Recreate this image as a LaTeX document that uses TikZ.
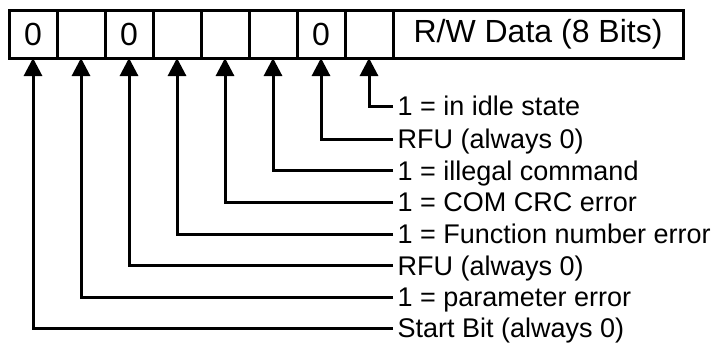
\documentclass[tikz,border=0pt]{standalone}
\usepackage{fontspec}
\setmainfont{Liberation Sans}
\usetikzlibrary{arrows.meta}
\begin{document}
\begin{tikzpicture}[x=1pt,y=-1pt,
  cell/.style={draw, line width=3pt, minimum width=48pt, minimum height=48pt, inner sep=0pt, outer sep=0pt,
    font=\fontsize{32}{36}\selectfont},
  databox/.style={draw, line width=3pt, minimum width=290pt, minimum height=48pt, inner sep=0pt, outer sep=0pt,
    font=\fontsize{32}{36}\selectfont},
  lbl/.style={anchor=west, inner xsep=4.5pt, inner ysep=0pt, text height=19.4pt, text depth=0pt,
    font=\fontsize{27}{31}\selectfont},
  conn/.style={line width=3pt, -{Triangle[length=18pt,width=18pt]}}]
\useasboundingbox (0,0) rectangle (712,343);
% register cells (bit 7 .. bit 0)
\node[cell] (c0) at (33,34) {0};
\node[cell] (c1) at (81,34) {};
\node[cell] (c2) at (129,34) {0};
\node[cell] (c3) at (177,34) {};
\node[cell] (c4) at (225,34) {};
\node[cell] (c5) at (273,34) {};
\node[cell] (c6) at (321,34) {0};
\node[cell] (c7) at (369,34) {};
\node[databox] (data) at (538,34) {R/W Data (8 Bits)};
% labels
\node[lbl] (l7) at (393,106) {1 = in idle state};
\node[lbl] (l6) at (393,139) {RFU (always 0)};
\node[lbl] (l5) at (393,170.5) {1 = illegal command};
\node[lbl] (l4) at (393,202) {1 = COM CRC error};
\node[lbl] (l3) at (393,234) {1 = Function number error};
\node[lbl] (l2) at (393,265.5) {RFU (always 0)};
\node[lbl] (l1) at (393,297) {1 = parameter error};
\node[lbl] (l0) at (393,328) {Start Bit (always 0)};
% connectors
\foreach \i in {0,...,7}{
  \draw[conn] (l\i.west) -| (c\i.south);
}
\end{tikzpicture}
\end{document}
